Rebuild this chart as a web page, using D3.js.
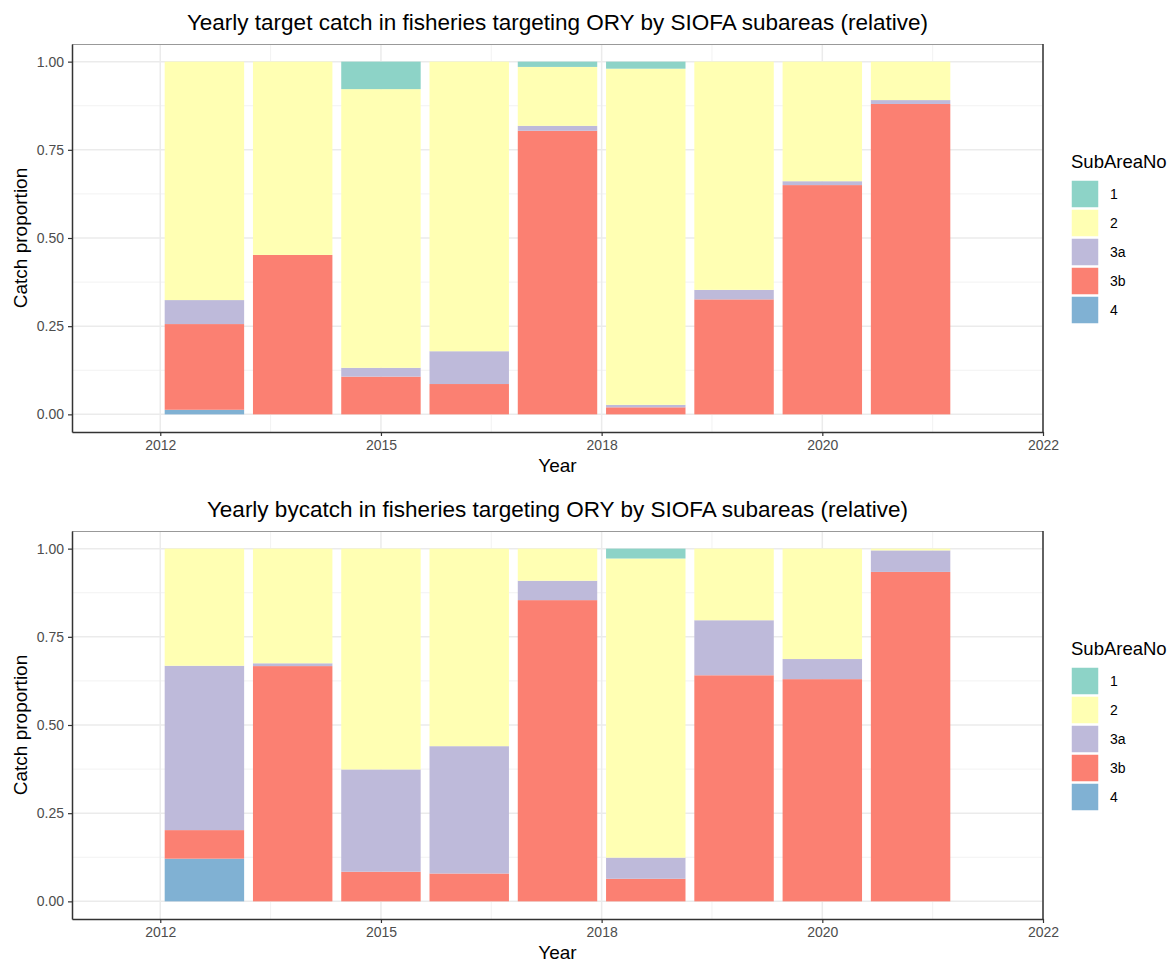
<!DOCTYPE html>
<html>
<head>
<meta charset="utf-8">
<script src="https://cdn.jsdelivr.net/npm/d3@7"></script>
<style>
  body { margin: 0; background: #fff; }
  text { font-family: "Liberation Sans", Arial, sans-serif; }
</style>
</head>
<body>
<div id="chart"></div>
<script>
// data
var years = [2013, 2014, 2015, 2016, 2017, 2018, 2019, 2020, 2021];
var subAreas = ["1", "2", "3a", "3b", "4"];

// target catch proportion per subarea
var target1  = [0, 0, 0.078, 0, 0.015, 0.020, 0, 0, 0];
var target2  = [0.676, 0.548, 0.790, 0.821, 0.167, 0.953, 0.647, 0.339, 0.109];
var target3a = [0.068, 0, 0.025, 0.093, 0.014, 0.007, 0.027, 0.011, 0.011];
var target3b = [0.243, 0.452, 0.107, 0.086, 0.804, 0.020, 0.326, 0.650, 0.880];
var target4  = [0.013, 0, 0, 0, 0, 0, 0, 0, 0];

// bycatch proportion per subarea
var bycatch1  = [0, 0, 0, 0, 0, 0.028, 0, 0, 0];
var bycatch2  = [0.332, 0.325, 0.626, 0.560, 0.091, 0.848, 0.203, 0.313, 0.005];
var bycatch3a = [0.466, 0.008, 0.290, 0.361, 0.055, 0.060, 0.156, 0.057, 0.061];
var bycatch3b = [0.081, 0.667, 0.084, 0.079, 0.854, 0.064, 0.641, 0.630, 0.934];
var bycatch4  = [0.121, 0, 0, 0, 0, 0, 0, 0, 0];

var xTicks = [2012.5, 2015, 2017.5, 2020, 2022.5];
var xTickLabels = ["2012", "2015", "2018", "2020", "2022"];
var xMinor = [2013.75, 2016.25, 2018.75, 2021.25];
var yTicks = [0, 0.25, 0.5, 0.75, 1];
var yMinor = [0.125, 0.375, 0.625, 0.875];

var colors = {"1": "#8DD3C7", "2": "#FFFFB3", "3a": "#BEBADA", "3b": "#FB8072", "4": "#80B1D3"};

var width = 1168, height = 962;

var svg = d3.select("#chart")
  .append("svg")
  .attr("width", width)
  .attr("height", height);

function makeRows(s1, s2, s3a, s3b, s4) {
  return years.map(function (y, i) {
    return {year: y, "1": s1[i], "2": s2[i], "3a": s3a[i], "3b": s3b[i], "4": s4[i]};
  });
}

function drawPanel(top, title, rows) {
  var left = 72, right = 1043, pTop = top, pBottom = top + 388;

  var x = d3.scaleLinear().domain([2011.5, 2022.5]).range([left, right]);
  var y = d3.scaleLinear().domain([-0.05, 1.05]).range([pBottom, pTop]);

  var g = svg.append("g");

  // minor grid
  g.selectAll(".xminor").data(xMinor).enter().append("line")
    .attr("x1", function (d) { return x(d); }).attr("x2", function (d) { return x(d); })
    .attr("y1", pTop).attr("y2", pBottom)
    .attr("stroke", "#F2F2F2").attr("stroke-width", 1);
  g.selectAll(".yminor").data(yMinor).enter().append("line")
    .attr("y1", function (d) { return y(d); }).attr("y2", function (d) { return y(d); })
    .attr("x1", left).attr("x2", right)
    .attr("stroke", "#F2F2F2").attr("stroke-width", 1);
  // major grid
  g.selectAll(".xmajor").data(xTicks).enter().append("line")
    .attr("x1", function (d) { return x(d); }).attr("x2", function (d) { return x(d); })
    .attr("y1", pTop).attr("y2", pBottom)
    .attr("stroke", "#EBEBEB").attr("stroke-width", 1.5);
  g.selectAll(".ymajor").data(yTicks).enter().append("line")
    .attr("y1", function (d) { return y(d); }).attr("y2", function (d) { return y(d); })
    .attr("x1", left).attr("x2", right)
    .attr("stroke", "#EBEBEB").attr("stroke-width", 1.5);

  // stacked bars, first level on top like ggplot
  var stack = d3.stack().keys(["4", "3b", "3a", "2", "1"]);
  var series = stack(rows);
  var bw = x(2013.45) - x(2012.55);

  g.selectAll(".layer").data(series).enter().append("g")
    .attr("fill", function (d) { return colors[d.key]; })
    .selectAll("rect")
    .data(function (d) { return d.filter(function (p) { return p[1] - p[0] > 0; }); })
    .enter().append("rect")
    .attr("x", function (d) { return x(d.data.year) - bw / 2; })
    .attr("width", bw)
    .attr("y", function (d) { return y(d[1]); })
    .attr("height", function (d) { return y(d[0]) - y(d[1]); });

  // panel border
  g.append("line").attr("x1", left).attr("x2", right).attr("y1", pTop + 0.5).attr("y2", pTop + 0.5)
    .attr("stroke", "#999").attr("stroke-width", 1);
  g.append("line").attr("x1", right).attr("x2", right).attr("y1", pTop).attr("y2", pBottom)
    .attr("stroke", "#333").attr("stroke-width", 1.5);

  // axes
  var xAxis = d3.axisBottom(x).tickValues(xTicks)
    .tickFormat(function (d, i) { return xTickLabels[i]; })
    .tickSize(4).tickSizeOuter(0).tickPadding(4);
  var yAxis = d3.axisLeft(y).tickValues(yTicks)
    .tickFormat(d3.format(".2f"))
    .tickSize(4).tickSizeOuter(0).tickPadding(4);

  var gx = g.append("g").attr("transform", "translate(0," + pBottom + ")").call(xAxis);
  var gy = g.append("g").attr("transform", "translate(" + left + ",0)").call(yAxis);

  [gx, gy].forEach(function (a) {
    a.select(".domain").attr("stroke", "#333").attr("stroke-width", 1.5);
    a.selectAll(".tick line").attr("stroke", "#333").attr("stroke-width", 1.2);
    a.selectAll(".tick text").attr("fill", "#4D4D4D").style("font-size", "14px")
      .style("font-family", "'Liberation Sans', Arial, sans-serif");
  });

  // titles
  svg.append("text")
    .attr("x", (left + right) / 2).attr("y", top - 14)
    .attr("text-anchor", "middle")
    .style("font-size", "22.5px")
    .text(title);

  svg.append("text")
    .attr("x", (left + right) / 2).attr("y", pBottom + 40)
    .attr("text-anchor", "middle")
    .style("font-size", "19px")
    .text("Year");

  svg.append("text")
    .attr("transform", "translate(27," + y(0.5) + ") rotate(-90)")
    .attr("text-anchor", "middle")
    .style("font-size", "19px")
    .text("Catch proportion");

  // legend
  var lg = svg.append("g").attr("transform", "translate(1071," + (top + 124) + ")");
  lg.append("text").attr("x", 0).attr("y", 0)
    .style("font-size", "18.5px")
    .text("SubAreaNo");
  var items = lg.selectAll(".item").data(subAreas).enter().append("g")
    .attr("transform", function (d, i) { return "translate(0," + (12 + i * 29) + ")"; });
  items.append("rect")
    .attr("width", 28).attr("height", 28)
    .attr("fill", function (d) { return colors[d]; })
    .attr("stroke", "#fff").attr("stroke-width", 1.5);
  items.append("text")
    .attr("x", 39).attr("y", 14).attr("dy", "0.35em")
    .style("font-size", "14px")
    .text(function (d) { return d; });
}

drawPanel(44, "Yearly target catch in fisheries targeting ORY by SIOFA subareas (relative)",
  makeRows(target1, target2, target3a, target3b, target4));
drawPanel(531, "Yearly bycatch in fisheries targeting ORY by SIOFA subareas (relative)",
  makeRows(bycatch1, bycatch2, bycatch3a, bycatch3b, bycatch4));
</script>
</body>
</html>
